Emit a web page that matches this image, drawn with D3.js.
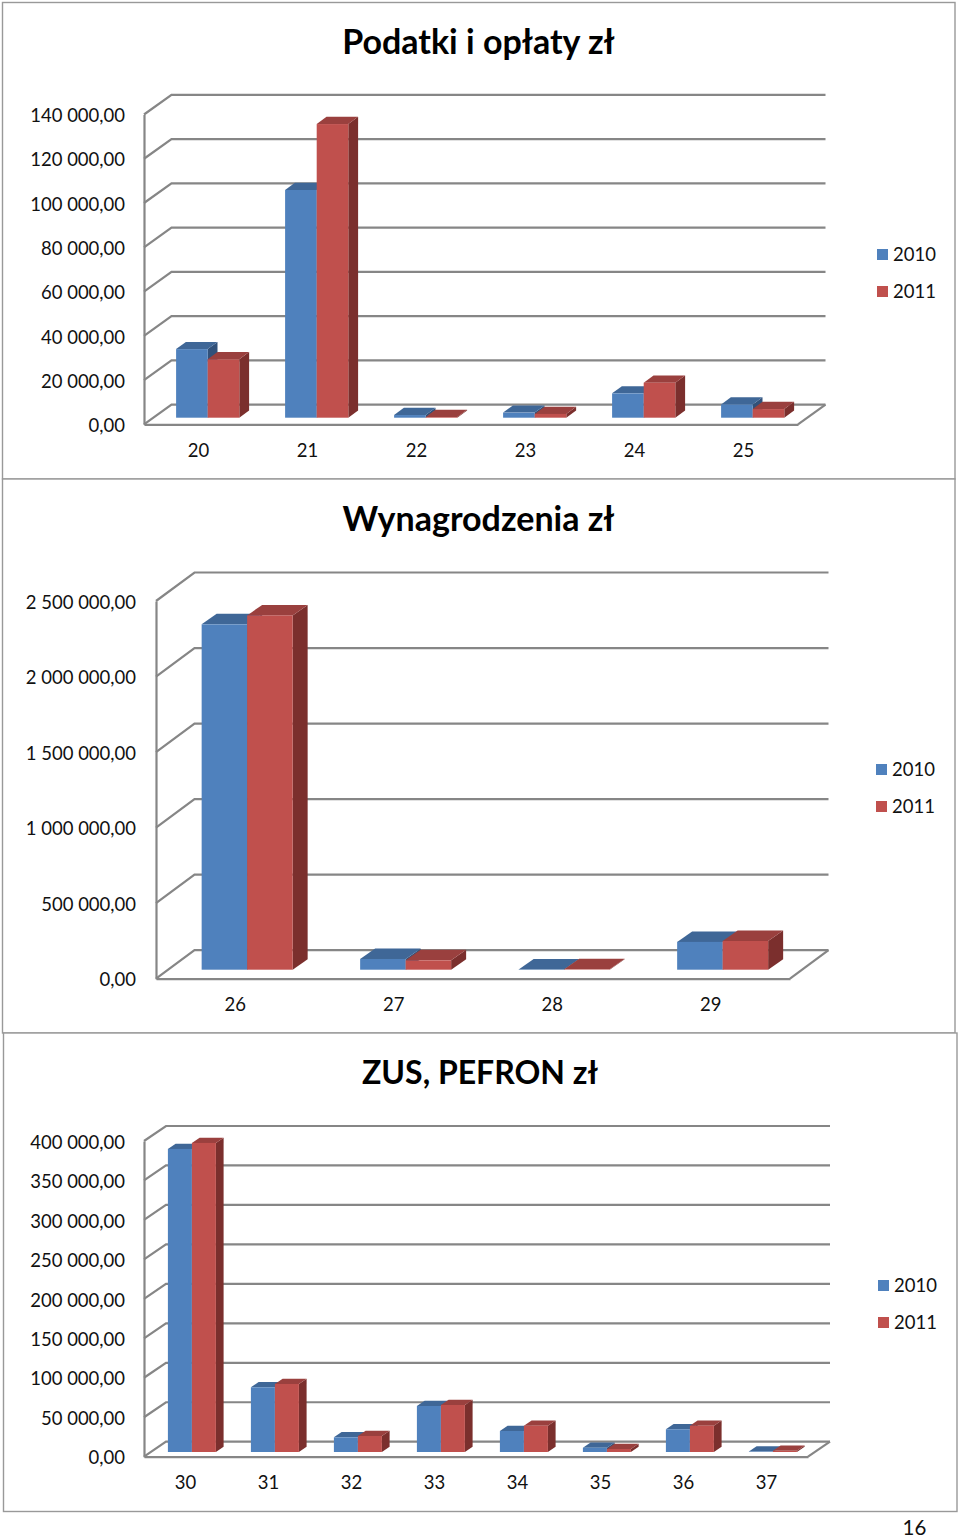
<!DOCTYPE html>
<html><head><meta charset="utf-8">
<script src="https://cdn.jsdelivr.net/npm/d3@7/dist/d3.min.js"></script>
<style>html,body{margin:0;padding:0;background:#fff}svg{display:block}
text{font-family:Lato,"Open Sans",sans-serif;fill:#111}</style></head>
<body><svg id="c" width="960" height="1537"></svg>
<script>
const seriesNames = ["2010", "2011"];

const cats1 = ["20","21","22","23","24","25"];
const a2010 = [31000,102900,1200,2300,11000,6000];
const a2011 = [26400,132700,300,1700,15800,3900];
const ticks1 = [0,20000,40000,60000,80000,100000,120000,140000];

const cats2 = ["26","27","28","29"];
const b2010 = [2286000,71000,1500,184000];
const b2011 = [2345000,62000,2500,190000];
const ticks2 = [0,500000,1000000,1500000,2000000,2500000];

const cats3 = ["30","31","32","33","34","35","36","37"];
const c2010 = [384000,82000,18600,58300,26600,5400,28800,500];
const c2011 = [391600,86200,20300,59600,33300,3800,33300,1500];
const ticks3 = [0,50000,100000,150000,200000,250000,300000,350000,400000];

const charts = [
 {title:"Podatki i opłaty zł", titleSize:34, cats:cats1, v:[a2010,a2011], ticks:ticks1,
  frame:[2.5,2.5,955,479], titleX:478.5, titleY:54,
  L:144,R:798,B:424.3,T:114.5, dx:27.5,dy:19.6, off:6.6, ox:9.2, bdx:9.8, bdy:7.2, bw:31.6, legX:877, legY:[254.5,291.5], catY:456, tickPad:19},
 {title:"Wynagrodzenia zł", titleSize:34, cats:cats2, v:[b2010,b2011], ticks:ticks2,
  frame:[2.5,479,955,1033], titleX:478.5, titleY:531,
  L:156,R:790,B:978.7,T:601, dx:38.5,dy:28.5, off:9, ox:11.9, bdx:15, bdy:10.5, bw:45.5, legX:876, legY:[769.5,806.5], catY:1010, tickPad:20},
 {title:"ZUS, PEFRON zł", titleSize:32, cats:cats3, v:[c2010,c2011], ticks:ticks3,
  frame:[3.5,1033,957,1511.5], titleX:480, titleY:1084,
  L:144,R:808,B:1456.7,T:1141, dx:22,dy:15, off:4.7, ox:6.4, bdx:7.7, bdy:5.3, bw:24, legX:878, legY:[1285.5,1322.5], catY:1488, tickPad:19}
];

const faceCol = ["#4f81bd","#c0504d"], topCol = ["#3f6797","#9a403e"], sideCol = ["#31517a","#7b2f2d"];
const GRID = "#868686";
const LABEL = "18.5px";
const svg = d3.select("#c");
const fmt = d3.formatLocale({decimal:",",thousands:"\u00a0",grouping:[3],currency:["",""]}).format(",.2f");
const poly = pts => pts.map(p=>p.join(",")).join(" ");

charts.forEach(c=>{
  const g = svg.append("g");
  const [x0,y0,x1,y1] = c.frame;
  g.append("rect").attr("x",x0).attr("y",y0).attr("width",x1-x0).attr("height",y1-y0)
    .attr("fill","#fff").attr("stroke","#999").attr("stroke-width",1.4);
  g.append("text").attr("x",c.titleX).attr("y",c.titleY).attr("text-anchor","middle")
    .style("font-size",c.titleSize+"px").style("font-weight",700).style("fill","#000").text(c.title);

  const y = d3.scaleLinear().domain([0,d3.max(c.ticks)]).range([c.B,c.T]);
  const x = d3.scaleBand().domain(c.cats).range([c.L,c.R]);
  const xs = d3.scaleBand().domain(seriesNames).range([-c.bw,c.bw]);

  // value axis through d3.axisLeft
  const ya = g.append("g").attr("transform",`translate(${c.L},0)`)
    .call(d3.axisLeft(y).tickValues(c.ticks).tickFormat(fmt).tickSize(0).tickPadding(c.tickPad));
  ya.select(".domain").attr("stroke",GRID).attr("stroke-width",2.2);
  ya.selectAll("text").style("font-size",LABEL).attr("dy","0.39em");

  // category axis through d3.axisBottom
  const xa = g.append("g").attr("transform",`translate(0,${c.B})`)
    .call(d3.axisBottom(x).tickSize(0).tickPadding(c.catY-c.B-8));
  xa.select(".domain").attr("stroke",GRID).attr("stroke-width",2.2);
  xa.selectAll("text").style("font-size",LABEL).attr("dy","0.5em");

  // walls
  c.ticks.forEach(t=>{
    g.append("polyline").attr("fill","none").attr("stroke",GRID).attr("stroke-width",2.2)
      .attr("points",poly([[c.L,y(t)],[c.L+c.dx,y(t)-c.dy],[c.R+c.dx,y(t)-c.dy]]));
  });
  g.append("line").attr("x1",c.R).attr("y1",c.B).attr("x2",c.R+c.dx).attr("y2",c.B-c.dy)
    .attr("stroke",GRID).attr("stroke-width",2.2);

  // bars
  c.cats.forEach((cat,i)=>{
    const cx = x(cat)+x.bandwidth()/2+c.ox, base = y(0)-c.off;
    seriesNames.forEach((s,k)=>{
      const xl = cx+xs(s), xr = xl+c.bw, h = c.B-y(c.v[k][i]), yt = base-h;
      g.append("polygon").attr("fill",sideCol[k]).attr("points",poly([[xr,yt],[xr+c.bdx,yt-c.bdy],[xr+c.bdx,base-c.bdy],[xr,base]]));
      g.append("polygon").attr("fill",topCol[k]).attr("points",poly([[xl,yt],[xl+c.bdx,yt-c.bdy],[xr+c.bdx,yt-c.bdy],[xr,yt]]));
      g.append("rect").attr("x",xl).attr("y",yt).attr("width",c.bw).attr("height",h).attr("fill",faceCol[k]);
    });
  });

  // legend
  seriesNames.forEach((s,k)=>{
    g.append("rect").attr("x",c.legX).attr("y",c.legY[k]-5.5).attr("width",11).attr("height",11).attr("fill",faceCol[k]);
    g.append("text").attr("x",c.legX+16).attr("y",c.legY[k]+6.5).style("font-size",LABEL).text(s);
  });
});
svg.append("text").attr("x",902.5).attr("y",1534.5).style("font-size","20.5px").text("16");
</script></body></html>
